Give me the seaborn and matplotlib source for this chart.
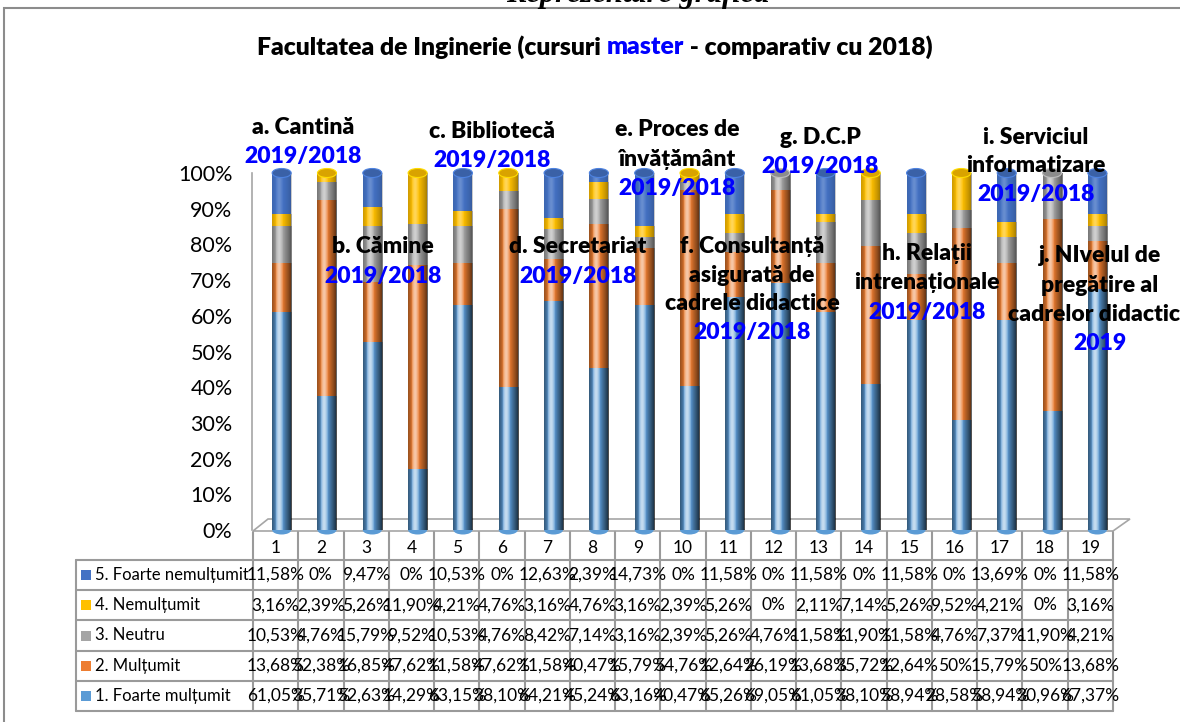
import numpy as np
import pandas as pd
import seaborn as sns
import matplotlib
matplotlib.use("Agg")
import matplotlib.pyplot as plt
from matplotlib.lines import Line2D
from matplotlib.patches import Rectangle, Polygon, Ellipse
from matplotlib.colors import to_rgb

# ---------------- data ----------------
columns = [str(i) for i in range(1, 20)]
series_names = ["5. Foarte nemulțumit", "4. Nemulțumit", "3. Neutru",
                "2. Mulțumit", "1. Foarte mulțumit"]
foarte_nemultumit = [11.58, 0, 9.47, 0, 10.53, 0, 12.63, 2.39, 14.73, 0,
                     11.58, 0, 11.58, 0, 11.58, 0, 13.69, 0, 11.58]
nemultumit = [3.16, 2.39, 5.26, 11.90, 4.21, 4.76, 3.16, 4.76, 3.16, 2.39,
              5.26, 0, 2.11, 7.14, 5.26, 9.52, 4.21, 0, 3.16]
neutru = [10.53, 4.76, 15.79, 9.52, 10.53, 4.76, 8.42, 7.14, 3.16, 2.39,
          5.26, 4.76, 11.58, 11.90, 11.58, 4.76, 7.37, 11.90, 4.21]
multumit = [13.68, 52.38, 16.85, 47.62, 11.58, 47.62, 11.58, 40.47, 15.79, 54.76,
            12.64, 26.19, 13.68, 35.72, 12.64, 50, 15.79, 50, 13.68]
foarte_multumit = [61.05, 35.71, 52.63, 14.29, 63.15, 38.10, 64.21, 45.24, 63.16, 40.47,
                   65.26, 69.05, 61.05, 38.10, 58.94, 28.58, 58.94, 30.96, 67.37]
series_colors = ["#4472C4", "#FFC000", "#A5A5A5", "#ED7D31", "#5B9BD5"]

title_parts = [("Facultatea de Inginerie (cursuri ", "black"), ("master", "#0000FF"),
               (" - comparativ cu 2018)", "black")]
annotations = [  # (x px, y px of first line, lines, blue line)
    (303, 128, ["a. Cantină"], "2019/2018"),
    (383, 247, ["b. Cămine"], "2019/2018"),
    (492, 132, ["c. Bibliotecă"], "2019/2018"),
    (578, 247, ["d. Secretariat"], "2019/2018"),
    (677, 130, ["e. Proces de", "învățământ"], "2019/2018"),
    (752, 246, ["f. Consultanță", "asigurată de", "cadrele didactice"], "2019/2018"),
    (820, 138, ["g. D.C.P"], "2019/2018"),
    (927, 254, ["h. Relații", "intrenaționale"], "2019/2018"),
    (1036, 137, ["i. Serviciul", "informatizare"], "2019/2018"),
    (1100, 256, ["j. NIvelul de", "pregătire al", "cadrelor didactice"], "2019"),
]

# ---------------- setup ----------------
sns.set_theme(style="white")
FONT = ["Lato", "DejaVu Sans"]
plt.rcParams["font.family"] = FONT

W, H = 1180, 722
fig = plt.figure(figsize=(W / 100, H / 100), dpi=100)
fig.patch.set_facecolor("white")


def X(px):
    return px / W


def Y(py):
    return 1 - py / H


fig.add_artist(Rectangle((X(4), Y(760)), X(1200), Y(8) - Y(760), transform=fig.transFigure,
                         fill=False, edgecolor="#8C8C8C", lw=1.5))
fig.text(X(638), Y(2), "Reprezentare grafică", ha="center", va="baseline",
         fontsize=22, fontweight="bold", fontstyle="italic",
         family=["Liberation Serif", "DejaVu Serif"], color="black")

# ---------------- chart ----------------
ax_l, ax_r, ax_b, ax_t = 252, 1113, 530, 173
ax = fig.add_axes([X(ax_l), Y(ax_b), X(ax_r) - X(ax_l), Y(ax_t) - Y(ax_b)])
ax.set_facecolor("none")

df = pd.DataFrame({"col": columns,
                   series_names[0]: foarte_nemultumit,
                   series_names[1]: nemultumit,
                   series_names[2]: neutru,
                   series_names[3]: multumit,
                   series_names[4]: foarte_multumit})
vals = df[series_names].to_numpy(dtype=float)
shares = vals / vals.sum(axis=1, keepdims=True)
bottom_first = shares[:, ::-1]
cum = np.cumsum(bottom_first, axis=1)
layer_colors_bottom_first = series_colors[::-1]

# draw from the full stack down, so shorter cumulative bars cover the taller ones
for k in range(4, -1, -1):
    sns.barplot(x=df["col"], y=cum[:, k], order=columns, color=layer_colors_bottom_first[k],
                saturation=1, width=0.42, errorbar=None, ax=ax, zorder=2)

shift = 7 / 45.3
ax.set_xlim(-0.5 - shift, 18.5 - shift)
ax.set_ylim(0, 1)

bars = [p for p in ax.patches if isinstance(p, Rectangle)]
for p in bars:
    p.set_edgecolor("none")
    p.set_linewidth(0)

# cylinder shading
n = 64
u = np.linspace(0, 1, n)
dark = 0.22 * (np.clip(np.abs(u - 0.4) / 0.6, 0, 1)) ** 1.8
light = 0.20 * np.exp(-((u - 0.36) / 0.14) ** 2)
rgb = np.where(light > dark, 1.0, 0.0)
shade = np.zeros((1, n, 4))
shade[0, :, 0] = rgb
shade[0, :, 1] = rgb
shade[0, :, 2] = rgb
shade[0, :, 3] = np.maximum(light, dark)
for p in bars:
    x0, y0 = p.get_x(), p.get_y()
    w, h = p.get_width(), p.get_height()
    if h <= 0:
        continue
    im = ax.imshow(shade, extent=(x0, x0 + w, y0, y0 + h), aspect="auto",
                   interpolation="bilinear", zorder=3)
    im.set_clip_path(p)

# elliptical cylinder caps on the full stacks (first 19 patches drawn = full stacks)
ell_h = 9 / (ax_b - ax_t)
for p in bars[:len(columns)]:
    cx = p.get_x() + p.get_width() / 2
    top = p.get_y() + p.get_height()
    # colour of the top-most non-empty segment
    i = int(round(cx))
    segs = bottom_first[i]
    top_k = max(k for k in range(5) if segs[k] > 0)
    base = np.array(to_rgb(layer_colors_bottom_first[top_k]))
    ax.add_patch(Ellipse((cx, top), p.get_width(), ell_h, facecolor=base * 0.85,
                         edgecolor=np.minimum(base * 1.15, 1), lw=0.8, zorder=4,
                         clip_on=False))
    ax.add_patch(Ellipse((cx, 0), p.get_width(), ell_h,
                         facecolor=to_rgb(layer_colors_bottom_first[0]),
                         edgecolor="none", zorder=1.9, clip_on=False))

ax.set_xlim(-0.5 - shift, 18.5 - shift)
ax.set_ylim(0, 1)
ax.set_xticks([])
ax.set_xlabel("")
ax.set_ylabel("")
ax.set_yticks(np.arange(0, 1.01, 0.1))
ax.set_yticklabels([f"{int(round(v * 100))}%" for v in np.arange(0, 1.01, 0.1)],
                   fontsize=15.5, color="black")
ax.tick_params(axis="y", length=5, width=1, color="#8C8C8C", direction="out", pad=9)
for s in ["top", "right", "bottom"]:
    ax.spines[s].set_visible(False)
ax.spines["left"].set_color("#A6A6A6")
ax.spines["left"].set_linewidth(1.2)

floor = Polygon([(X(253), Y(531)), (X(1113), Y(531)), (X(1130), Y(519)), (X(268), Y(519))],
                closed=True, transform=fig.transFigure, facecolor="white",
                edgecolor="#A6A6A6", lw=1.2, zorder=0)
fig.add_artist(floor)
ax.set_zorder(2)

# ---------------- title ----------------
renderer = fig.canvas.get_renderer()
pieces = []
for txt, col in title_parts:
    t = fig.text(0, Y(47), txt, fontsize=17.8, fontweight="heavy", color=col,
                 va="center", ha="left")
    pieces.append(t)
widths = [t.get_window_extent(renderer).width for t in pieces]
start = 595 - sum(widths) / 2
for t, w in zip(pieces, widths):
    t.set_x(X(start))
    start += w

# ---------------- annotations ----------------
LS = 29
for xc, y0, lines, blue in annotations:
    for i, ln in enumerate(lines):
        fig.text(X(xc), Y(y0 + i * LS), ln, ha="center", va="center", fontsize=16.5,
                 fontweight="heavy", color="black", zorder=10)
    fig.text(X(xc), Y(y0 + len(lines) * LS), blue, ha="center", va="center", fontsize=16.5,
             fontweight="heavy", color="#0000FF", zorder=10)

# ---------------- data table ----------------
tbl_l, lab_r, tbl_r = 76, 253, 1113
col_w = (tbl_r - lab_r) / len(columns)
hdr_top, hdr_bot = 532, 560
row_h = 30.2
grid_c = "#9A9A9A"


def hline(y, x0, x1):
    fig.add_artist(Line2D([X(x0), X(x1)], [Y(y), Y(y)], transform=fig.transFigure,
                          color=grid_c, lw=1.5))


def vline(x, y0, y1):
    fig.add_artist(Line2D([X(x), X(x)], [Y(y0), Y(y1)], transform=fig.transFigure,
                          color=grid_c, lw=1.5))


n_rows = len(series_names)
tbl_bot = hdr_bot + n_rows * row_h
for r in range(n_rows + 1):
    hline(hdr_bot + r * row_h, tbl_l, tbl_r)
vline(tbl_l, hdr_bot, tbl_bot)
for c in range(len(columns) + 1):
    vline(lab_r + c * col_w, hdr_top, tbl_bot)

for c, name in enumerate(columns):
    fig.text(X(lab_r + (c + 0.5) * col_w), Y((hdr_top + hdr_bot) / 2 + 2), name,
             ha="center", va="center", fontsize=12.5, color="black")


def fmt(v):
    if abs(v - round(v)) < 1e-9:
        return f"{int(round(v))}%"
    return f"{v:.2f}%".replace(".", ",")


for r, name in enumerate(series_names):
    yc = hdr_bot + (r + 0.5) * row_h
    fig.add_artist(Rectangle((X(81), Y(yc + 5)), X(10), Y(yc - 5) - Y(yc + 5),
                             transform=fig.transFigure, facecolor=series_colors[r],
                             edgecolor="none"))
    fig.text(X(95), Y(yc), name, ha="left", va="center", fontsize=12, color="black")
    for c in range(len(columns)):
        fig.text(X(lab_r + (c + 0.5) * col_w), Y(yc), fmt(vals[c, r]),
                 ha="center", va="center", fontsize=12.5, color="black")

fig.savefig("out.png", dpi=100, facecolor="white")
